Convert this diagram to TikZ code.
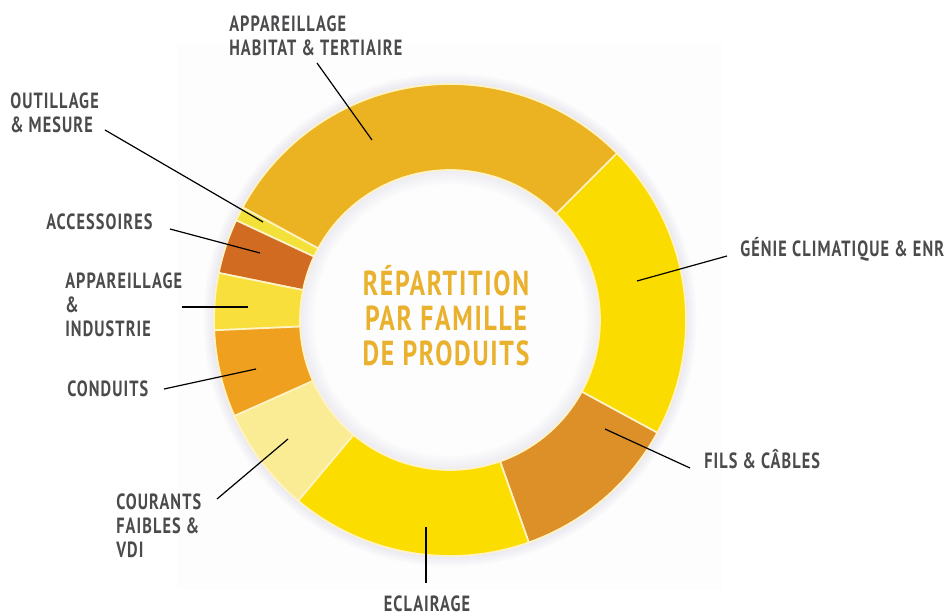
\documentclass[tikz,border=0pt]{standalone}
\usepackage{fontspec}
\newfontfamily\lblfont{PT Sans}[FakeStretch=0.74,LetterSpace=5]
\definecolor{habitat}{HTML}{EBB221}
\definecolor{genie}{HTML}{FBDC00}
\definecolor{fils}{HTML}{DD8F28}
\definecolor{eclairage}{HTML}{FCDD00}
\definecolor{courants}{HTML}{FAEB95}
\definecolor{conduits}{HTML}{EEA01E}
\definecolor{industrie}{HTML}{F8DF3C}
\definecolor{accessoires}{HTML}{D26B22}
\definecolor{outillage}{HTML}{F3E13A}
\definecolor{seam}{HTML}{FFF3C4}
\definecolor{halo}{HTML}{C8C6DC}
\definecolor{labgray}{HTML}{4B4B4D}
\definecolor{titlegold}{HTML}{E9B12D}

\begin{document}
\begin{tikzpicture}[x=0.75pt,y=-0.75pt,
    lbl/.style={font=\lblfont\bfseries\fontsize{16.5}{18}\selectfont,text=labgray,align=left,inner sep=0pt},
    ttl/.style={font=\lblfont\bfseries\fontsize{26}{26.3}\selectfont,text=titlegold,align=center,inner sep=0pt},
    lead/.style={draw=black,line width=0.9pt},
    part/.style={draw=seam,line width=1.3pt,line join=round}]
    \useasboundingbox (0,0) rectangle (950,616);
    \fill[black!0.6] (177,43) rectangle (722,590);

    \begin{scope}[shift={(450,320)},y=0.75pt]
        \foreach \k in {1,...,10}
            \draw[halo,line width=0.9pt,opacity=0.3-0.027*\k] (0,0) circle (236+\k);
        \foreach \k in {1,...,14}
            \draw[halo,line width=0.9pt,opacity=0.25-0.017*\k] (0,0) circle (150-\k);
        \foreach \a/\b/\c in {-70.5/-28.5/fils,-28.5/45/genie,45/151.5/habitat,
                151.5/155/outillage,155/168.5/accessoires,168.5/182.5/industrie,
                182.5/204/conduits,204/230/courants,230/289.5/eclairage}
            \filldraw[part,fill=\c] (\a:236) arc (\a:\b:236) -- (\b:150) arc (\b:\a:150) -- cycle;
    \end{scope}

    \node[ttl] (title) at (446,316) {RÉPARTITION\\PAR FAMILLE\\DE PRODUITS};

    \node[lbl,anchor=north west] (hab) at (229,16) {APPAREILLAGE\\HABITAT \& TERTIAIRE};
    \node[lbl,anchor=north west] (out) at (10,93) {OUTILLAGE\\\& MESURE};
    \node[lbl,anchor=base west] (acc) at (46,230) {ACCESSOIRES};
    \node[lbl,anchor=north west] (ind) at (65,273) {APPAREILLAGE\\\&\\INDUSTRIE};
    \node[lbl,anchor=base west] (con) at (67,397) {CONDUITS};
    \node[lbl,anchor=north west] (cou) at (116,494) {COURANTS\\FAIBLES \&\\VDI};
    \node[lbl,anchor=base] (ecl) at (427,611) {ECLAIRAGE};
    \node[lbl,anchor=base west] (fil) at (704,469) {FILS \& CÂBLES};
    \node[lbl,anchor=base west] (gen) at (740,257) {GÉNIE CLIMATIQUE \& ENR};

    \coordinate (hab-in) at (372,140);  \coordinate (hab-out) at (317,63);
    \coordinate (out-in) at (263,222);  \coordinate (out-out) at (105,130);
    \coordinate (acc-in) at (260,253);  \coordinate (acc-out) at (170,229);
    \coordinate (ind-in) at (248,307);  \coordinate (ind-out) at (182,307);
    \coordinate (con-in) at (256,369);  \coordinate (con-out) at (164,389);
    \coordinate (cou-in) at (288,439);  \coordinate (cou-out) at (217,499);
    \coordinate (ecl-in) at (426,527);  \coordinate (ecl-out) at (426,583);
    \coordinate (fil-in) at (605,429);  \coordinate (fil-out) at (690,468);
    \coordinate (gen-in) at (637,281);  \coordinate (gen-out) at (727,256);

    \path[lead]
    (hab-in) edge (hab-out)
    (out-in) edge (out-out)
    (acc-in) edge (acc-out)
    (ind-in) edge (ind-out)
    (con-in) edge (con-out)
    (cou-in) edge (cou-out)
    (ecl-in) edge (ecl-out)
    (fil-in) edge (fil-out)
    (gen-in) edge (gen-out);
\end{tikzpicture}
\end{document}
